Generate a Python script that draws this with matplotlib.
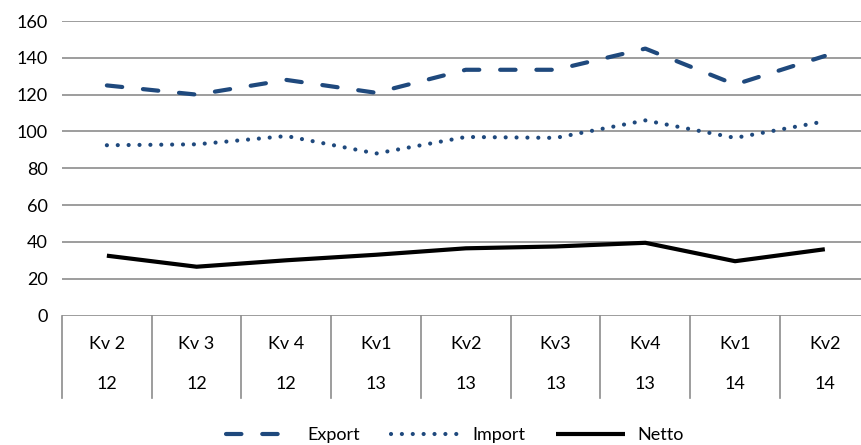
import numpy as np
import matplotlib
matplotlib.use('Agg')
import matplotlib.pyplot as plt
import matplotlib.transforms as mtransforms

plt.rcParams['font.family'] = ['Lato', 'DejaVu Sans']

quarters = ['Kv 2', 'Kv 3', 'Kv 4', 'Kv1', 'Kv2', 'Kv3', 'Kv4', 'Kv1', 'Kv2']
years = ['12', '12', '12', '13', '13', '13', '13', '14', '14']
export = [125, 120, 128, 121, 133.5, 133.5, 145, 125.5, 141]
imports = [92.5, 93, 97.5, 88, 97, 96.5, 106, 96.5, 105.5]
netto = [32.5, 26.5, 30, 33, 36.5, 37.5, 39.5, 29.5, 36]

blue = '#1F497D'
grid_col = '#8C8C8C'

fig = plt.figure(figsize=(8.62, 4.45), dpi=100)
W, H = 862, 445
x0, x1 = 62, 869.7
y_top, y_bot = 21, 315.5
ax = fig.add_axes([x0 / W, 1 - y_bot / H, (x1 - x0) / W, (y_bot - y_top) / H])

x = np.arange(len(quarters))
ax.plot(x, export, color=blue, lw=3.0, linestyle=(0, (3.7, 5.0)),
        dash_capstyle='round', solid_capstyle='round', label='Export', zorder=3)
ax.plot(x, imports, color=blue, lw=3.0, linestyle=(0, (0.01, 2.6)),
        dash_capstyle='round', label='Import', zorder=3)
ax.plot(x, netto, color='black', lw=3.0, solid_capstyle='butt',
        label='Netto', zorder=3)

ax.set_xlim(-0.5, len(quarters) - 0.5)
ax.set_ylim(0, 160)
ax.set_yticks(np.arange(0, 161, 20))
ax.tick_params(axis='y', length=0, pad=10, labelsize=13)
ax.set_xticks([])
ax.yaxis.grid(True, color=grid_col, lw=1.2)
ax.set_axisbelow(True)
for s in ax.spines.values():
    s.set_visible(False)

# category boxes below the axis
trans = mtransforms.blended_transform_factory(ax.transData, ax.transAxes)
box_depth = (398 - y_bot) / (y_bot - y_top)
for b in np.arange(-0.5, len(quarters), 1.0):
    ax.plot([b, b], [0, -box_depth], color=grid_col, lw=1.2,
            transform=trans, clip_on=False)
row1 = -(344 - y_bot) / (y_bot - y_top)
row2 = -(384 - y_bot) / (y_bot - y_top)
for i, (q, yr) in enumerate(zip(quarters, years)):
    ax.text(i, row1, q, transform=trans, ha='center', va='center', fontsize=13)
    ax.text(i, row2, yr, transform=trans, ha='center', va='center', fontsize=13)

fig.legend(loc='center', bbox_to_anchor=(455 / W, 1 - 435 / H), ncol=3,
           frameon=False, fontsize=13, handlelength=3.8, columnspacing=1.7,
           handletextpad=0.7)

fig.savefig('out.png', dpi=100)
